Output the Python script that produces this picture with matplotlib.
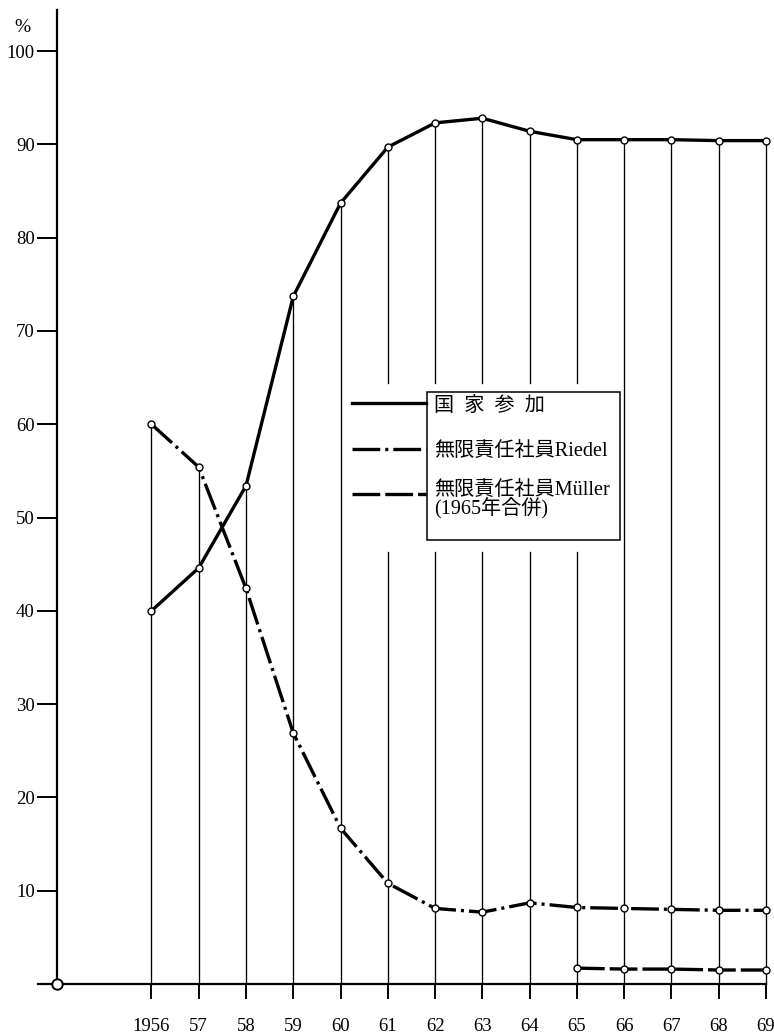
import matplotlib
matplotlib.use("Agg")
import matplotlib.pyplot as plt
from matplotlib.lines import Line2D
from matplotlib.patches import Rectangle

plt.rcParams['lines.scale_dashes'] = False

# ---- data ----
years = [1956, 1957, 1958, 1959, 1960, 1961, 1962, 1963, 1964, 1965, 1966, 1967, 1968, 1969]
year_labels = ['1956', '57', '58', '59', '60', '61', '62', '63', '64', '65', '66', '67', '68', '69']
state = [40.0, 44.6, 53.4, 73.7, 83.7, 89.7, 92.3, 92.8, 91.4, 90.5, 90.5, 90.5, 90.4, 90.4]
riedel = [60.0, 55.4, 42.4, 26.9, 16.7, 10.8, 8.1, 7.7, 8.7, 8.2, 8.1, 8.0, 7.9, 7.9]
muller_years = [1965, 1966, 1967, 1968, 1969]
muller = [1.7, 1.6, 1.6, 1.5, 1.5]
yticks = [10, 20, 30, 40, 50, 60, 70, 80, 90, 100]
legend_labels = ['国\u2002家\u2002参\u2002加', '無限責任社員Riedel', '無限責任社員Müller\n(1965年合併)']

W, H = 774, 1035
fig = plt.figure(figsize=(W / 100, H / 100), dpi=100)
ax = fig.add_axes([38 / W, (H - 984) / H, (766 - 38) / W, (984 - 10) / H])
ax.set_xlim(1953.6, 1969)
ax.set_ylim(0, 104.4)

serif = ['Liberation Serif', 'Noto Sans CJK JP']

for s in ['top', 'right']:
    ax.spines[s].set_visible(False)
ax.spines['left'].set_position(('data', 1954))
ax.spines['left'].set_linewidth(1.6)
ax.spines['bottom'].set_linewidth(1.6)

ax.set_yticks(yticks)
ax.set_yticklabels([str(v) for v in yticks], family=serif)
ax.tick_params(axis='y', length=14.4, width=1.4, pad=1.5, labelsize=13.5)
ax.set_xticks(years)
ax.set_xticklabels(year_labels, family=serif)
ax.tick_params(axis='x', length=10.8, width=1.4, pad=14, labelsize=13.5)

# drop lines (interrupted behind the legend)
gap_lo, gap_hi = 46.3, 64.4
gap_years = (1960.5, 1965.5)
for x, a, b in zip(years, state, riedel):
    top = max(a, b)
    if gap_years[0] < x < gap_years[1]:
        ax.plot([x, x], [0, gap_lo], color='black', lw=0.95, zorder=1)
        ax.plot([x, x], [gap_hi, top], color='black', lw=0.95, zorder=1)
    else:
        ax.plot([x, x], [0, top], color='black', lw=0.95, zorder=1, clip_on=False)

mk = dict(marker='o', markersize=5, markerfacecolor='white', markeredgecolor='black',
          markeredgewidth=1.0, clip_on=False, zorder=3)
ax.plot(years, state, color='black', lw=2.4, **mk)
ax.plot(years, riedel, color='black', lw=2.4, dashes=(20, 3.6, 2.2, 3.6), **mk)
ax.plot(muller_years, muller, color='black', lw=2.4, dashes=(20, 3.6), **mk)

# origin circle
ax.plot([1954], [0], marker='o', markersize=7.5, markerfacecolor='white',
        markeredgecolor='black', markeredgewidth=1.4, clip_on=False, zorder=4)

# percent sign
fig.text(22 / W, 1 - 28 / H, '%', family=serif, fontsize=14, ha='center', va='center')

# legend
def fx(px):
    return px / W

def fy(py):
    return 1 - py / H

fig.add_artist(Rectangle((fx(427), fy(540)), fx(620) - fx(427), fy(392) - fy(540),
                         fill=False, lw=1.1, edgecolor='black'))
sample_y = [403, 449, 494]
sample_dash = [None, (20, 3.6, 2.2, 3.6), (20, 3.6)]
for yy, d in zip(sample_y, sample_dash):
    ln = Line2D([fx(352), fx(426)], [fy(yy), fy(yy)], color='black', lw=2.4)
    if d is not None:
        ln.set_dashes(d)
    fig.add_artist(ln)
text_y = [406, 452, 500]
for yy, lab in zip(text_y, legend_labels):
    fig.text(fx(434), fy(yy), lab, family=serif, fontsize=14.5, ha='left', va='center',
             linespacing=0.9)

fig.savefig('out.png', dpi=100)
